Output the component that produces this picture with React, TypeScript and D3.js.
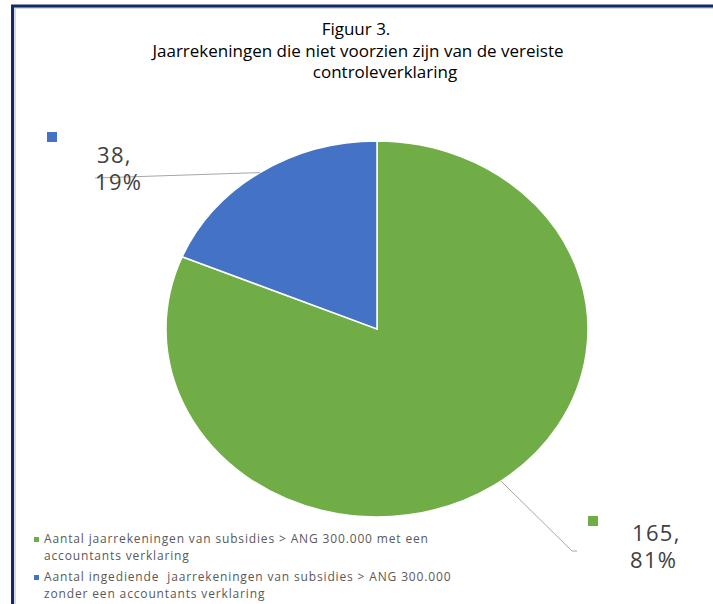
import * as React from "react";
import * as d3 from "d3";

const categories = [
  "Aantal jaarrekeningen van subsidies > ANG 300.000 met een accountants verklaring",
  "Aantal ingediende  jaarrekeningen van subsidies > ANG 300.000 zonder een accountants verklaring",
];
const values = [165, 38];
const percentLabels = ["81%", "19%"];
const colors = ["#70ad47", "#4472c4"];
const legendLines = [
  ["Aantal jaarrekeningen van subsidies > ANG 300.000 met een", "accountants verklaring"],
  ["Aantal ingediende\u00a0 jaarrekeningen van subsidies > ANG 300.000", "zonder een accountants verklaring"],
];
const titleLines = [
  "Figuur 3.",
  "Jaarrekeningen die niet voorzien zijn van de vereiste",
  "controleverklaring",
];

const width = 713;
const height = 604;
const font = "'Open Sans', 'DejaVu Sans', sans-serif";

export default function App() {
  const cx = 377;
  const cy = 329;
  const r = 188;
  const sx = 211 / 188;

  const pie = d3.pie<number>().sort(null).startAngle(0).endAngle(2 * Math.PI);
  const arcs = pie(values);
  const arc = d3.arc<d3.PieArcDatum<number>>().innerRadius(0).outerRadius(r);

  const onArc = (a: number) => [cx + Math.sin(a) * r * sx, cy - Math.cos(a) * r];

  // leader line anchors on the rim
  const blueMid = (arcs[1].startAngle + arcs[1].endAngle) / 2;
  const bluePt = onArc(blueMid);
  const greenPt = onArc((144 * Math.PI) / 180);

  return (
    <svg
      width={width}
      height={height}
      style={{ position: "absolute", left: 0, top: 0, background: "#fff" }}
      fontFamily={font}
    >
      <rect x={0} y={0} width={width} height={height} fill="#fff" />
      {/* frame */}
      <line x1={14} x2={width} y1={8} y2={8} stroke="#d9d9d9" strokeWidth={2} />
      <line x1={15} x2={15} y1={8} y2={height} stroke="#d9d9d9" strokeWidth={2} />
      <line x1={11} x2={width} y1={6} y2={6} stroke="#0f2b6b" strokeWidth={3} />
      <line x1={12.5} x2={12.5} y1={5} y2={height} stroke="#0f2b6b" strokeWidth={3} />

      {/* title */}
      <g fill="#000" fontSize={17} textAnchor="middle">
        <text x={356} y={35}>{titleLines[0]}</text>
        <text x={358} y={57}>{titleLines[1]}</text>
        <text x={385} y={78}>{titleLines[2]}</text>
      </g>

      {/* pie */}
      <g transform={`translate(${cx},${cy}) scale(${sx},1)`}>
        {arcs.map((d, i) => (
          <path
            key={categories[i]}
            d={arc(d) as string}
            fill={colors[i]}
            stroke="#fff"
            strokeWidth={1.5}
            vectorEffect="non-scaling-stroke"
          />
        ))}
      </g>

      {/* leader lines */}
      <polyline
        points={`95,178 ${bluePt[0]},${bluePt[1]}`}
        fill="none"
        stroke="#a6a6a6"
        strokeWidth={1}
      />
      <polyline
        points={`${greenPt[0]},${greenPt[1]} 572,551 577,551`}
        fill="none"
        stroke="#a6a6a6"
        strokeWidth={1}
      />

      {/* data labels */}
      <rect x={47} y={132} width={10} height={10} fill={colors[1]} />
      <g fill="#404040" fontSize={22} letterSpacing={1.3}>
        <text x={97} y={163}>{`${values[1]},`}</text>
        <text x={95} y={190}>{percentLabels[1]}</text>
      </g>
      <rect x={588} y={516} width={10} height={10} fill={colors[0]} />
      <g fill="#404040" fontSize={22} letterSpacing={1.3}>
        <text x={632} y={541}>{`${values[0]},`}</text>
        <text x={630} y={568}>{percentLabels[0]}</text>
      </g>

      {/* legend */}
      <g fill="#595959" fontSize={12} letterSpacing={0.85}>
        {legendLines.map((lines, i) => (
          <g key={i} transform={`translate(0,${i * 38})`}>
            <rect x={34} y={537} width={5} height={5} fill={colors[i]} />
            <text x={44} y={543}>{lines[0]}</text>
            <text x={44} y={559.5}>{lines[1]}</text>
          </g>
        ))}
      </g>
    </svg>
  );
}
